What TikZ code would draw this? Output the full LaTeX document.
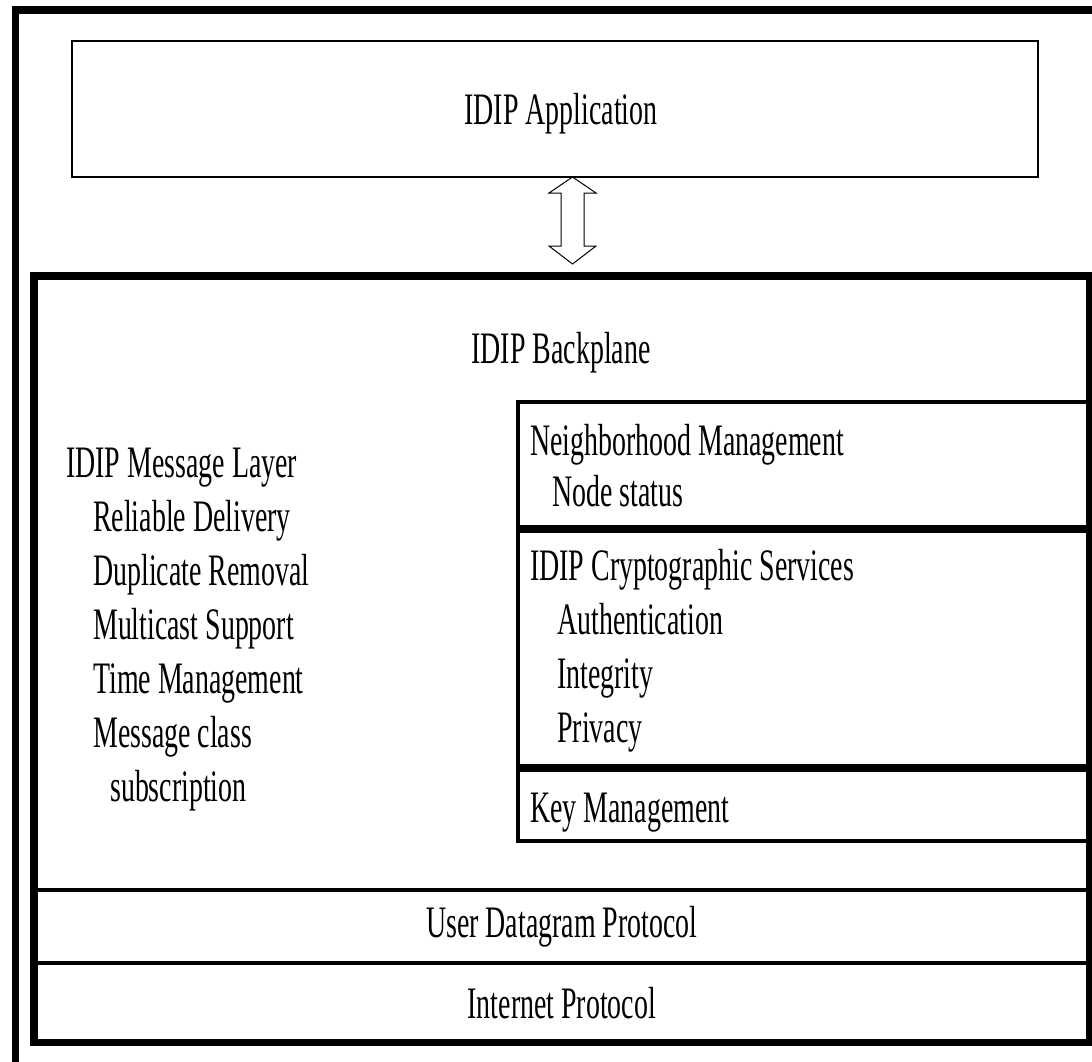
\documentclass[tikz,border=0pt]{standalone}
\usepackage{fontspec}
\setmainfont{Liberation Serif}[FakeStretch=0.62]
\usetikzlibrary{positioning}
\tikzset{>=latex}
\tikzset{
  box/.style={draw, inner sep=0pt, outer sep=0pt, anchor=north west},
  lbl/.style={inner sep=0pt, font=\fontsize{45}{54}\selectfont},
  item/.style={lbl, anchor=base west},
}

\begin{document}
\begin{tikzpicture}[x=1pt, y=-1pt]
    \useasboundingbox (0,0) rectangle (1092,1061);

    % Outer frame (runs off the right and bottom edges)
    \draw[line width=7.5pt] (15.5,1080) -- (15.5,10) -- (1100,10);

    % Application box
    \node[box, line width=1.5pt, minimum width=966pt, minimum height=136pt] (app) at (72,41) {};
    \node[lbl, anchor=base] (apptxt) at (561,124) {IDIP Application};

    % Up/down block arrow between application and backplane
    \coordinate (mid) at (572.5,220.5);
    \draw[line width=1pt, shift={(mid)}]
        (0,-43.5) -- (23.5,-27.5) -- (11.5,-27.5) -- (11.5,25.5) -- (23.5,25.5) -- (0,43.5)
        -- (-23.5,25.5) -- (-11.5,25.5) -- (-11.5,-27.5) -- (-23.5,-27.5) -- cycle;

    % Backplane
    \node[box, line width=7.5pt, minimum width=1055.5pt, minimum height=766.5pt] (back) at (34,276) {};
    \node[lbl, anchor=base] (backtxt) at (561,363) {IDIP Backplane};

    % Message layer services
    \node[item] (msg) at (66,477) {IDIP Message Layer};
    \foreach \t [count=\i] in {Reliable Delivery, Duplicate Removal, Multicast Support,
                               Time Management, Message class} {
        \node[item] (msg\i) at (93,477+\i*54) {\t};
    }
    \node[item] (msg6) at (110,801) {subscription};

    % Right-hand stack
    \node[box, line width=4pt, minimum width=572pt, minimum height=125pt] (nbr) at (517.5,402) {};
    \node[box, line width=4pt, minimum width=572pt, minimum height=235pt] (crypto) at (517.5,531) {};
    \node[box, line width=4pt, minimum width=572pt, minimum height=71pt] (key) at (517.5,770) {};

    \node[item] (nbrtxt) at (530,455) {Neighborhood Management};
    \node[item] (nodest) at (552,506) {Node status};
    \node[item] (cryptotxt) at (530,580) {IDIP Cryptographic Services};
    \foreach \t [count=\i] in {Authentication, Integrity, Privacy} {
        \node[item] (crypto\i) at (557,580+\i*54) {\t};
    }
    \node[item] (keytxt) at (530,822) {Key Management};

    % Transport layers
    \node[box, line width=4pt, minimum width=1055.5pt, minimum height=73pt, font=\fontsize{45}{54}\selectfont] (udp) at (34,890) {User Datagram Protocol};
    \node[box, line width=4pt, minimum width=1055.5pt, minimum height=79.5pt, font=\fontsize{45}{54}\selectfont] (ip) at (udp.south west) {Internet Protocol};
\end{tikzpicture}
\end{document}
